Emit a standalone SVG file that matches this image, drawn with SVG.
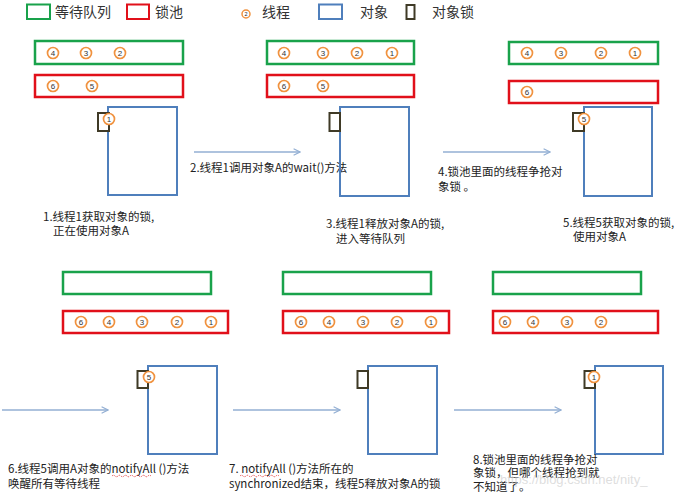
<svg xmlns="http://www.w3.org/2000/svg" width="678" height="498" viewBox="0 0 678 498">
<style>
text{font-family:"Noto Sans CJK SC","Liberation Sans",sans-serif;fill:#222}
.wait{fill:none;stroke:#19A24B;stroke-width:2.5}
.pool{fill:none;stroke:#E1101A;stroke-width:2.5}
.obj{fill:none;stroke:#4F7FBC;stroke-width:2}
.lock{fill:#fff;stroke:#3F3A26;stroke-width:2}
.th circle{fill:#fff;stroke:#F0923F;stroke-width:1.7}
.th text{font-family:"Liberation Sans",sans-serif;font-size:8px;text-anchor:middle;fill:#333}
.lbl{font-size:11.5px}
.leg{font-size:14px;fill:#333}
.arr{stroke:#93AFD3;stroke-width:1.5;fill:none;marker-end:url(#ah)}
.sq{stroke:#E03030;stroke-width:0.8;fill:none;stroke-dasharray:1.5 1}
</style>
<defs>
<marker id="ah" viewBox="0 0 10 10" refX="9" refY="5" markerWidth="8" markerHeight="8" markerUnits="userSpaceOnUse" orient="auto">
<path d="M1,1 L9,5 L1,9" fill="none" stroke="#93AFD3" stroke-width="1.4"/>
</marker>
<g id="t1" class="th"><circle r="5.5"/><text y="3">1</text></g>
<g id="t2" class="th"><circle r="5.5"/><text y="3">2</text></g>
<g id="t3" class="th"><circle r="5.5"/><text y="3">3</text></g>
<g id="t4" class="th"><circle r="5.5"/><text y="3">4</text></g>
<g id="t5" class="th"><circle r="5.5"/><text y="3">5</text></g>
<g id="t6" class="th"><circle r="5.5"/><text y="3">6</text></g>
</defs>
<rect width="678" height="498" fill="#fff"/>

<g id="legend">
<rect x="27" y="4.5" width="23" height="14.5" class="wait" style="stroke-width:2"/>
<text x="55" y="17" class="leg">等待队列</text>
<rect x="127" y="4.5" width="22" height="14.5" class="pool" style="stroke-width:2"/>
<text x="155" y="17" class="leg">锁池</text>
<circle cx="246" cy="14" r="4" fill="#fff" stroke="#F0923F" stroke-width="1.5"/>
<text x="246" y="16" style="font-family:'Liberation Sans',sans-serif;font-size:5.5px;text-anchor:middle">2</text>
<text x="262" y="17" class="leg">线程</text>
<rect x="319" y="4.5" width="23" height="14.5" class="obj"/>
<text x="360" y="17" class="leg">对象</text>
<rect x="406.5" y="5" width="8" height="14" class="lock" style="fill:none"/>
<text x="432" y="17" class="leg">对象锁</text>
</g>

<g id="connectors">
<line x1="194" y1="152" x2="300" y2="152" class="arr"/>
<line x1="443" y1="152" x2="550" y2="152" class="arr"/>
<line x1="2" y1="410" x2="108" y2="410" class="arr"/>
<line x1="233" y1="410" x2="340" y2="410" class="arr"/>
<line x1="454" y1="410" x2="561" y2="410" class="arr"/>
</g>

<g id="panel1">
<rect x="35" y="41" width="148" height="23" class="wait"/>
<use href="#t4" x="53" y="53"/><use href="#t3" x="86" y="53"/><use href="#t2" x="120" y="53"/>
<rect x="35" y="75" width="148" height="22" class="pool"/>
<use href="#t6" x="53" y="86"/><use href="#t5" x="92" y="86"/>
<rect x="108" y="107" width="69" height="88" class="obj"/>
<rect x="98" y="113" width="11" height="18" class="lock"/>
<use href="#t1" x="109" y="119"/>
<text x="43" y="221" class="lbl">1.线程1获取对象的锁,</text>
<text x="53" y="235" class="lbl">正在使用对象A</text>
</g>

<g id="label2"><text x="190" y="172" class="lbl">2.线程1调用对象A的wait()方法</text></g>

<g id="panel2">
<rect x="267" y="41" width="147" height="23" class="wait"/>
<use href="#t4" x="284" y="53"/><use href="#t3" x="323" y="53"/><use href="#t2" x="357" y="53"/><use href="#t1" x="392" y="53"/>
<rect x="267" y="75" width="147" height="22" class="pool"/>
<use href="#t6" x="284" y="86"/><use href="#t5" x="323" y="86"/>
<rect x="340" y="107" width="69" height="89" class="obj"/>
<rect x="329.5" y="113" width="10.5" height="18" class="lock"/>
<text x="326" y="228" class="lbl">3.线程1释放对象A的锁,</text>
<text x="336" y="243" class="lbl">进入等待队列</text>
</g>

<g id="label4">
<text x="438" y="176" class="lbl">4.锁池里面的线程争抢对</text>
<text x="438" y="191" class="lbl">象锁 。</text>
</g>

<g id="panel3">
<rect x="509" y="42" width="149" height="22" class="wait"/>
<use href="#t4" x="527" y="53"/><use href="#t3" x="561" y="53"/><use href="#t2" x="601" y="53"/><use href="#t1" x="635" y="53"/>
<rect x="509" y="81" width="149" height="22" class="pool"/>
<use href="#t6" x="527" y="92"/>
<rect x="584" y="107" width="68" height="89" class="obj"/>
<rect x="573" y="113" width="11" height="18" class="lock"/>
<use href="#t5" x="584" y="119"/>
<text x="563" y="227" class="lbl">5.线程5获取对象的锁,</text>
<text x="573" y="241" class="lbl">使用对象A</text>
</g>

<g id="panel4">
<rect x="63" y="272" width="148" height="22" class="wait"/>
<rect x="63" y="311" width="165" height="22" class="pool"/>
<use href="#t6" x="81" y="322"/><use href="#t4" x="109" y="322"/><use href="#t3" x="142" y="322"/><use href="#t2" x="177" y="322"/><use href="#t1" x="211" y="322"/>
<rect x="148" y="366" width="69" height="88" class="obj"/>
<rect x="137.5" y="371" width="10.5" height="17" class="lock"/>
<use href="#t5" x="149" y="377"/>
<text x="8" y="473" class="lbl">6.线程5调用A对象的notifyAll ()方法</text>
<path d="M112,476 q1.5,-1.5 3,0 t3,0 t3,0 t3,0 t3,0 t3,0 t3,0 t3,0 t3,0 t3,0 t3,0 t3,0 t3,0" class="sq"/>
<text x="8" y="488" class="lbl">唤醒所有等待线程</text>
</g>

<g id="panel5">
<rect x="283" y="272" width="148" height="22" class="wait"/>
<rect x="283" y="311" width="166" height="22" class="pool"/>
<use href="#t6" x="301" y="322"/><use href="#t4" x="329" y="322"/><use href="#t3" x="363" y="322"/><use href="#t2" x="397" y="322"/><use href="#t1" x="431" y="322"/>
<rect x="368" y="366" width="69" height="88" class="obj"/>
<rect x="357.5" y="371" width="10.5" height="17" class="lock"/>
<text x="229" y="473" class="lbl">7. notifyAll ()方法所在的</text>
<path d="M240,476 q1.5,-1.5 3,0 t3,0 t3,0 t3,0 t3,0 t3,0 t3,0 t3,0 t3,0 t3,0 t3,0 t3,0 t3,0" class="sq"/>
<text x="229" y="488" class="lbl">synchronized结束，线程5释放对象A的锁</text>
</g>

<g id="panel6">
<rect x="493" y="272" width="148" height="22" class="wait"/>
<rect x="493" y="311" width="165" height="22" class="pool"/>
<use href="#t6" x="505" y="322"/><use href="#t4" x="533" y="322"/><use href="#t3" x="567" y="322"/><use href="#t2" x="601" y="322"/>
<rect x="595" y="366" width="68" height="88" class="obj"/>
<rect x="584.5" y="371" width="10.5" height="17" class="lock"/>
<use href="#t1" x="594" y="377"/>
<text x="473" y="464" class="lbl">8.锁池里面的线程争抢对</text>
<text x="473" y="477" class="lbl">象锁，但哪个线程抢到就</text>
<text x="473" y="491" class="lbl">不知道了。</text>
</g>

<g id="watermark">
<text x="500" y="484" style="font-family:'Liberation Sans',sans-serif;font-size:13px;fill:#cfcfcf;fill-opacity:0.7">https://blog.csdn.net/nity_</text>
</g>
</svg>
